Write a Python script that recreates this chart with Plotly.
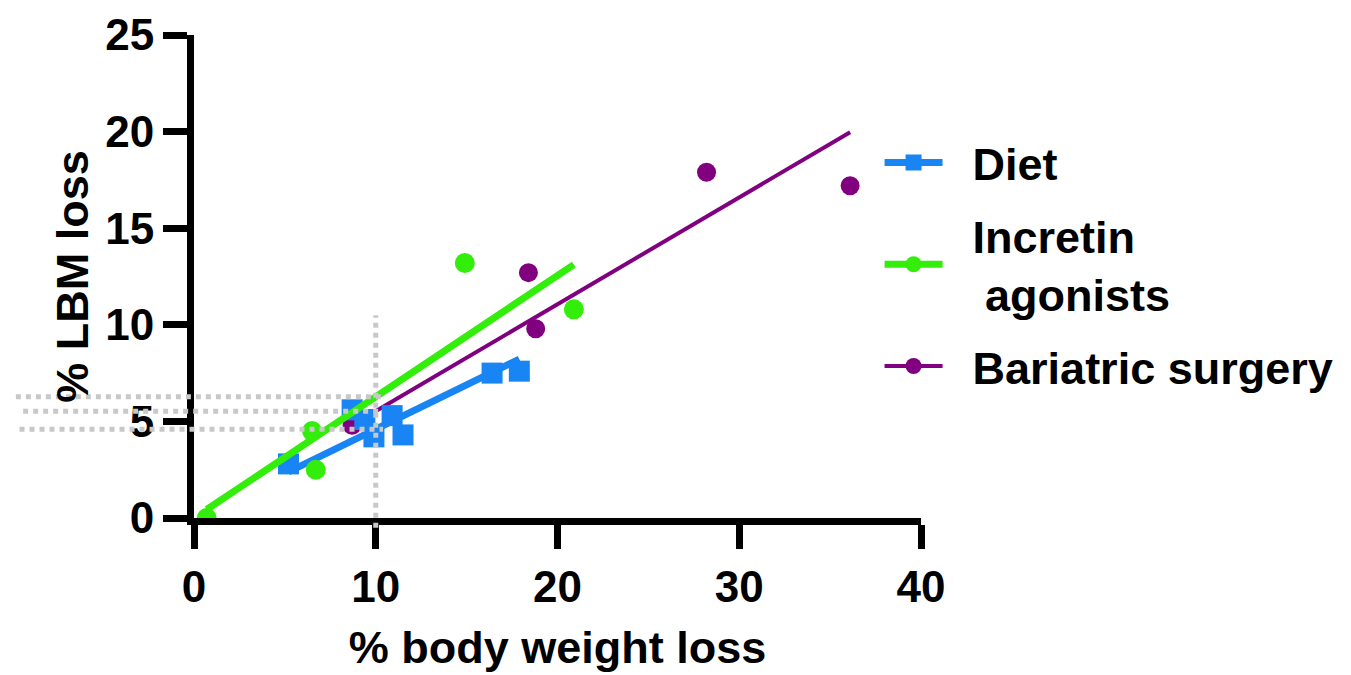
import numpy as np
import plotly.graph_objects as go

# ---- data ----
diet_x = [5.2, 8.7, 9.4, 9.9, 10.9, 11.5, 16.4, 17.9]
diet_y = [2.8, 5.6, 5.1, 4.2, 5.3, 4.3, 7.5, 7.6]

incretin_x = [0.7, 6.5, 6.7, 14.9, 20.9]
incretin_y = [0.0, 4.5, 2.5, 13.2, 10.8]

bariatric_x = [8.7, 18.4, 18.8, 28.2, 36.1]
bariatric_y = [4.8, 12.7, 9.8, 17.9, 17.2]

series_names = ["\u00a0\u00a0Diet",
                "\u00a0\u00a0Incretin<br>\u00a0\u00a0\u00a0agonists",
                "\u00a0\u00a0Bariatric surgery"]
x_ticks = [0, 10, 20, 30, 40]
y_ticks = [0, 5, 10, 15, 20, 25]
ref_x = 10  # reference body-weight-loss marker

BLUE = "#1985F5"
GREEN = "#33EE0A"
PURPLE = "#800080"
GREY = "#C8C8C8"

FONT = "Liberation Sans, Arial, sans-serif"


def origin_fit(xs, ys):
    xs = np.asarray(xs, float)
    ys = np.asarray(ys, float)
    return float((xs * ys).sum() / (xs * xs).sum())


series = [
    (bariatric_x, bariatric_y, PURPLE, "circle", 19, 4, series_names[2], 3),
    (diet_x, diet_y, BLUE, "square", 21, 7, series_names[0], 1),
    (incretin_x, incretin_y, GREEN, "circle", 20, 7, series_names[1], 2),
]

fig = go.Figure()
fit_at_ref = []
for xs, ys, col, sym, msize, lw, name, rank in series:
    k = origin_fit(xs, ys)
    lx = np.array([min(xs), max(xs)])
    fig.add_trace(go.Scatter(x=lx, y=k * lx, mode="lines",
                             line=dict(color=col, width=lw),
                             showlegend=False, hoverinfo="skip"))
    fig.add_trace(go.Scatter(x=xs, y=ys, mode="markers",
                             marker=dict(color=col, symbol=sym, size=msize),
                             showlegend=False))
    fig.add_trace(go.Scatter(x=[None], y=[None], mode="lines+markers",
                             line=dict(color=col, width=lw),
                             marker=dict(color=col, symbol=sym, size=msize),
                             name=name, legendrank=rank, legendgroup=name))
    fit_at_ref.append(k * ref_x)

# dotted guide lines
x_paper_ref = (ref_x - x_ticks[0]) / (x_ticks[-1] - x_ticks[0])
for i, yv in enumerate(fit_at_ref):
    fig.add_shape(type="line", xref="paper", yref="y",
                  x0=-0.235 - 0.005 * i, x1=x_paper_ref + 0.01, y0=yv, y1=yv,
                  line=dict(color=GREY, width=5, dash="dot"), layer="above")
fig.add_shape(type="line", xref="x", yref="paper",
              x0=ref_x, x1=ref_x, y0=-0.02, y1=0.42,
              line=dict(color=GREY, width=5, dash="dot"), layer="above")

axis_common = dict(
    showline=True, linecolor="black", linewidth=7,
    ticks="outside", ticklen=24, tickwidth=7, tickcolor="black",
    showgrid=False, zeroline=False, automargin=False,
    ticklabeloverflow="allow",
    tickfont=dict(family=FONT, size=44, color="black", weight="bold"),
)

fig.update_xaxes(range=[x_ticks[0], x_ticks[-1]], tickvals=x_ticks,
                 title=dict(text="% body weight loss", standoff=24,
                            font=dict(family=FONT, size=45, color="black", weight="bold")),
                 **axis_common)
fig.update_yaxes(range=[y_ticks[0], y_ticks[-1]], tickvals=y_ticks,
                 title=dict(text="% LBM loss", standoff=5,
                            font=dict(family=FONT, size=45, color="black", weight="bold")),
                 **axis_common)

# page body has an 8px margin, so the figure is sized to fit the window
fig.update_layout(
    width=1343, height=667,
    margin=dict(l=186, r=424, t=27, b=157),
    paper_bgcolor="white", plot_bgcolor="white",
    legend=dict(x=0.943, y=0.81, xanchor="left", yanchor="top",
                font=dict(family=FONT, size=45, color="black", weight="bold"),
                itemwidth=58, tracegroupgap=11, bgcolor="rgba(0,0,0,0)"),
)

fig.write_html("out.html")
